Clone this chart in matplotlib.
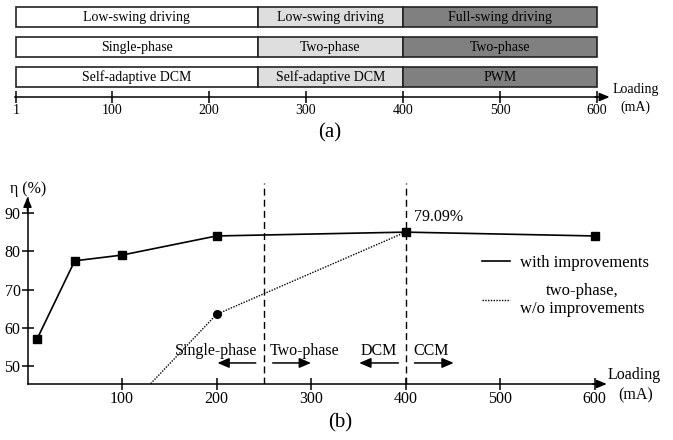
import numpy as np
import matplotlib.pyplot as plt
from matplotlib.lines import Line2D

plt.rcParams['font.family'] = ['Liberation Serif', 'DejaVu Serif']

# ---- (a) operating modes ----
band_edges = [1, 250, 400, 600]
band_colors = ['white', '#dedede', '#808080']
row_driving = ["Low-swing driving", "Low-swing driving", "Full-swing driving"]
row_phase = ["Single-phase", "Two-phase", "Two-phase"]
row_mode = ["Self-adaptive DCM", "Self-adaptive DCM", "PWM"]
ticks_a = [1, 100, 200, 300, 400, 500, 600]

# ---- (b) efficiency ----
load_imp = [10, 50, 100, 200, 400, 600]
eff_imp = [57.0, 77.5, 79.0, 84.0, 85.0, 84.0]
load_2ph = [100, 200, 400]
eff_2ph = [37.5, 63.5, 85.0]
splits = [250, 400]
ticks_bx = [100, 200, 300, 400, 500, 600]
ticks_by = [50, 60, 70, 80, 90]

W, H = 673, 440
fig = plt.figure(figsize=(W / 100, H / 100), dpi=100)


def px_axes(l, t, r, b):
    return fig.add_axes([l / W, 1 - b / H, (r - l) / W, (b - t) / H])


# ================= (a) =================
axa = px_axes(15, 0, 597, 97)
axa.set_xlim(0, 600)
axa.set_ylim(97, 0)  # pixel-like rows, top down
rows = [row_driving, row_phase, row_mode]
row_tops = [7, 37, 67]
for labels, top in zip(rows, row_tops):
    for i, lab in enumerate(labels):
        x0, x1 = band_edges[i], band_edges[i + 1]
        axa.barh(top + 10, x1 - x0, left=x0, height=20, color=band_colors[i],
                 edgecolor='#222222', linewidth=1.2, clip_on=False)
        axa.text((x0 + x1) / 2, top + 10.5, lab, ha='center', va='center', fontsize=10)
for s in ['top', 'left', 'right']:
    axa.spines[s].set_visible(False)
axa.spines['bottom'].set_linewidth(1.1)
axa.set_yticks([])
axa.set_xticks(ticks_a)
axa.set_xticklabels([str(t) for t in ticks_a])
axa.tick_params(axis='x', direction='inout', length=8, width=1.1, labelsize=10, pad=1)
axa.annotate('', xy=(613, 97), xytext=(598, 97), annotation_clip=False,
             arrowprops=dict(arrowstyle='-|>,head_length=0.6,head_width=0.25',
                             color='black', lw=1.1, shrinkA=0, shrinkB=0))
axa.text(640, 89, "Loading", ha='center', va='center', fontsize=10, clip_on=False)
axa.text(640, 107, "(mA)", ha='center', va='center', fontsize=10, clip_on=False)
fig.text(330 / W, 1 - 133 / H, "(a)", ha='center', va='center', fontsize=15)

# ================= (b) =================
axb = px_axes(27.5, 182.4, 594.5, 384)
axb.set_xlim(0, 600)
axb.set_ylim(45.3, 98)
for s in ['top', 'right']:
    axb.spines[s].set_visible(False)
axb.spines['bottom'].set_linewidth(1.1)
axb.spines['left'].set_bounds(45.3, 93.9)
axb.spines['left'].set_linewidth(1.1)
axb.set_xticks(ticks_bx)
axb.set_yticks(ticks_by)
axb.tick_params(direction='inout', length=8, width=1.1, labelsize=11.5, pad=1)

axb.plot(load_imp, eff_imp, color='black', lw=1.2, marker='s', markersize=5.5,
         clip_on=False, zorder=3, label='with improvements')
axb.plot(load_2ph, eff_2ph, color='black', lw=1.0, linestyle=(0, (1, 1)),
         marker='o', markersize=5.5, markevery=[1],
         label='two-phase,\nw/o improvements')
axb.vlines(splits, 45.3, 97.8, colors='black', linestyles=(0, (5, 3)), lw=1.0)

# axis arrows
axb.annotate('', xy=(613, 45.3), xytext=(598, 45.3), annotation_clip=False,
             arrowprops=dict(arrowstyle='-|>,head_length=0.6,head_width=0.25',
                             color='black', lw=1.1, shrinkA=0, shrinkB=0))
axb.annotate('', xy=(0, 94.2), xytext=(0, 90.5), annotation_clip=False,
             arrowprops=dict(arrowstyle='-|>,head_length=0.6,head_width=0.25',
                             color='black', lw=1.1, shrinkA=0, shrinkB=0))
axb.text(-19, 96.3, "η (%)", ha='left', va='center', fontsize=11.5, clip_on=False)
axb.text(642, 47.6, "Loading", ha='center', va='center', fontsize=11.5, clip_on=False)
axb.text(644, 42.2, "(mA)", ha='center', va='center', fontsize=11.5, clip_on=False)
axb.text(409, 89, "79.09%", ha='left', va='center', fontsize=11.5)

# region annotations
ann_kw = dict(arrowstyle='-|>,head_length=0.7,head_width=0.3', color='black',
              lw=1.1, shrinkA=0, shrinkB=0)
axb.text(243.5, 53.9, "Single-phase", ha='right', va='center', fontsize=11.5)
axb.annotate('', xy=(201, 50.8), xytext=(241.5, 50.8), arrowprops=ann_kw)
axb.text(256, 53.9, "Two-phase", ha='left', va='center', fontsize=11.5)
axb.annotate('', xy=(300, 50.8), xytext=(259.5, 50.8), arrowprops=ann_kw)
axb.text(391, 53.9, "DCM", ha='right', va='center', fontsize=11.5)
axb.annotate('', xy=(351, 50.8), xytext=(392.5, 50.8), arrowprops=ann_kw)
axb.text(408.5, 53.9, "CCM", ha='left', va='center', fontsize=11.5)
axb.annotate('', xy=(451, 50.8), xytext=(409.5, 50.8), arrowprops=ann_kw)

handles = [Line2D([], [], color='black', lw=1.2),
           Line2D([], [], color='black', lw=1.0, linestyle=(0, (1, 1)))]
leg = axb.legend(handles, ['with improvements', 'two-phase,\nw/o improvements'],
                 loc='upper left', bbox_to_anchor=(0.8016, 0.64), frameon=False,
                 fontsize=12, handlelength=1.7, handletextpad=0.6, labelspacing=0.7,
                 borderpad=0, borderaxespad=0)
leg.get_texts()[1].set_multialignment('center')

fig.text(340 / W, 1 - 423 / H, "(b)", ha='center', va='center', fontsize=15)

fig.savefig('out.png', dpi=100)
